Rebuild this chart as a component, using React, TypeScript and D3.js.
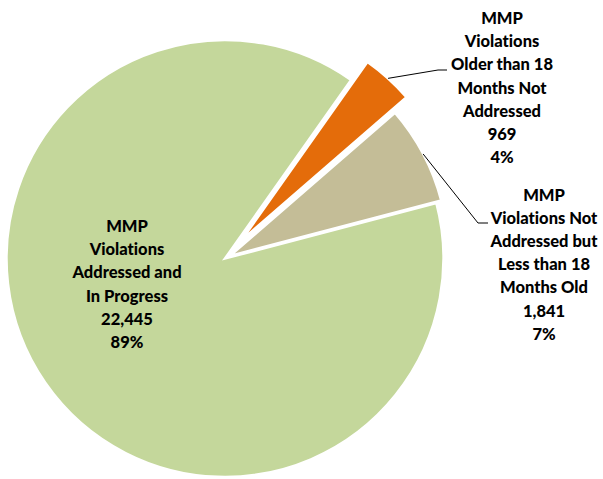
import * as d3 from 'd3';

// slice data, in Excel series order (first slice starts ~75deg clockwise from 12 o'clock)
const categories = [
  'MMP Violations Addressed and In Progress',
  'MMP Violations Older than 18 Months Not Addressed',
  'MMP Violations Not Addressed but Less than 18 Months Old',
];
const counts = [22445, 969, 1841];
const labelLines = [
  ['MMP', 'Violations', 'Addressed and', 'In Progress'],
  ['MMP', 'Violations', 'Older than 18', 'Months Not', 'Addressed'],
  ['MMP', 'Violations Not', 'Addressed but', 'Less than 18', 'Months Old'],
];
const colors = ['#C4D79B', '#E46C0A', '#C4BD97'];

// layout
const W = 603;
const H = 479;
const cx = 225;
const cy = 258.5;
const radius = 218.5;
const startDeg = 75.3;
const explode = [0, 24.5, 5.5];
const labelPos = [
  { x: 127, y: 232, line: null as null | number[] },
  { x: 502, y: 24, line: [438, 70, 447] },
  { x: 544, y: 200.5, line: [478, 223, 488] },
];
const lineH = 23.2;

export default function App() {
  const total = d3.sum(counts);
  const start = (startDeg * Math.PI) / 180;
  const pie = d3.pie<number>().sort(null).startAngle(start).endAngle(start + 2 * Math.PI);
  const arcs = pie(counts);
  const arc = d3.arc<d3.PieArcDatum<number>>().innerRadius(0).outerRadius(radius);
  const fmt = d3.format(',');
  const pct = d3.format('.0%');

  return (
    <svg width={W} height={H} style={{ position: 'absolute', left: 0, top: 0 }}>
      <rect width={W} height={H} fill="#fff" />
      {arcs.map((a, i) => {
        const mid = (a.startAngle + a.endAngle) / 2;
        const ox = cx + explode[i] * Math.sin(mid);
        const oy = cy - explode[i] * Math.cos(mid);
        return (
          <path
            key={categories[i]}
            d={arc(a) || ''}
            transform={`translate(${ox},${oy})`}
            fill={colors[i]}
            stroke="#fff"
            strokeWidth={2.5}
            strokeLinejoin="miter"
          />
        );
      })}
      {arcs.map((a, i) => {
        const lp = labelPos[i];
        if (!lp.line) return null;
        const mid = (a.startAngle + a.endAngle) / 2;
        const ox = cx + explode[i] * Math.sin(mid);
        const oy = cy - explode[i] * Math.cos(mid);
        const sx = ox + radius * Math.sin(mid);
        const sy = oy - radius * Math.cos(mid);
        const [ex, ey, hx] = lp.line;
        return (
          <polyline
            key={'l' + i}
            points={`${sx},${sy} ${ex},${ey} ${hx},${ey}`}
            fill="none"
            stroke="#000"
            strokeWidth={1}
          />
        );
      })}
      {arcs.map((a, i) => {
        const lp = labelPos[i];
        const lines = [...labelLines[i], fmt(counts[i]), pct(counts[i] / total)];
        return (
          <text
            key={'t' + i}
            x={lp.x}
            y={lp.y}
            textAnchor="middle"
            fontFamily="Lato, 'Open Sans', sans-serif"
            fontWeight={900}
            fontSize={16.5}
            fill="#000"
            style={{ fontVariantLigatures: 'none' }}
          >
            {lines.map((s, j) => (
              <tspan key={j} x={lp.x} y={lp.y + j * lineH}>
                {s}
              </tspan>
            ))}
          </text>
        );
      })}
    </svg>
  );
}
